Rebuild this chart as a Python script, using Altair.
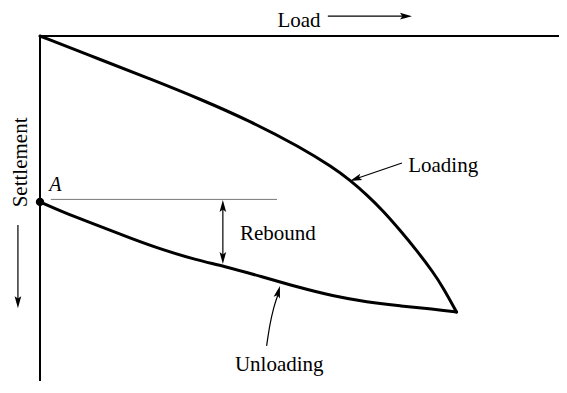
import altair as alt
import pandas as pd

# ---- chart values (relative load / settlement units; tip of the loop = 100, 100) ----
loading_load = [0, 14.4, 26.4, 38.4, 50.4, 62.4, 70.3, 74.4, 78.5, 82.4, 86.4, 90.5, 94.4, 96.8, 100]
loading_settle = [0, 8.5, 15.5, 22.8, 30.8, 40.2, 47.6, 52.2, 57.6, 63.4, 70.3, 77.8, 85.6, 91.2, 100]

unloading_load = [0, 5.5, 13.7, 21.6, 29.5, 37.7, 43.9, 53.5, 61.7, 70.3, 78.5, 86.4, 94.4, 100]
unloading_settle = [60.1, 63.8, 68.5, 73.2, 77.5, 81.2, 83.3, 87.3, 90.9, 94.2, 96.4, 97.8, 98.9, 100]

point_a_load = [0]
point_a_settle = [60.1]
rebound_level = 59.2

label_texts = ["Load", "Loading", "Rebound", "Unloading"]

W, H = 519, 345
XMAX = 124.6
YMAX = 125.0

xs = alt.Scale(domain=[0, XMAX], nice=False, zero=False)
ys = alt.Scale(domain=[0, YMAX], nice=False, zero=False, reverse=True)


def X(f="x"):
    return alt.X(f"{f}:Q", scale=xs, axis=None)


def Y(f="y"):
    return alt.Y(f"{f}:Q", scale=ys, axis=None)


FONT = "Liberation Serif"
ARROW = "M0,0L0.55,2L0,1.6L-0.55,2Z"

# axes (drawn as rules)
axes_df = pd.DataFrame({"x": [0, 0], "x2": [0, 140], "y": [0, 0], "y2": [140, 0]})
axes = alt.Chart(axes_df).mark_rule(color="black", strokeWidth=2).encode(
    x=X(), x2="x2:Q", y=Y(), y2="y2:Q"
)

loading_df = pd.DataFrame({"x": loading_load, "y": loading_settle, "o": range(len(loading_load))})
unloading_df = pd.DataFrame({"x": unloading_load, "y": unloading_settle, "o": range(len(unloading_load))})

loading = alt.Chart(loading_df).mark_line(
    color="black", strokeWidth=3, interpolate="basis", strokeCap="round"
).encode(x=X(), y=Y(), order="o:Q")
unloading = alt.Chart(unloading_df).mark_line(
    color="black", strokeWidth=3, interpolate="basis", strokeCap="round"
).encode(x=X(), y=Y(), order="o:Q")

# rebound reference line
reb_df = pd.DataFrame({"x": [2.6], "x2": [56.9], "y": [rebound_level]})
reb_line = alt.Chart(reb_df).mark_rule(color="#777777", strokeWidth=1).encode(
    x=X(), x2="x2:Q", y=Y()
)

# point A
pa_df = pd.DataFrame({"x": point_a_load, "y": point_a_settle})
pa = alt.Chart(pa_df).mark_point(filled=True, color="black", size=70, opacity=1, shape="circle").encode(
    x=X(), y=Y()
)

# straight arrow shafts
shaft_df = pd.DataFrame({
    "x": [69.1, -5.3, 43.9, 86.9],
    "x2": [88.0, -5.3, 43.9, 75.5],
    "y": [-7.2, 68.5, 62.0, 46.0],
    "y2": [-7.2, 96.0, 80.0, 51.9],
})
shafts = alt.Chart(shaft_df).mark_rule(color="black", strokeWidth=1.2).encode(
    x=X(), x2="x2:Q", y=Y(), y2="y2:Q"
)

# curved shaft to the unloading branch
ucurve_df = pd.DataFrame({"x": [54.4, 55.2, 56.1, 57.3], "y": [112.3, 104.7, 98.6, 93.0], "o": [0, 1, 2, 3]})
ucurve = alt.Chart(ucurve_df).mark_line(color="black", strokeWidth=1.2, interpolate="monotone").encode(
    x=X(), y=Y(), order="o:Q"
)

# arrow heads
heads_df = pd.DataFrame({
    "x": [89.3, -5.3, 43.9, 43.9, 74.4, 57.6],
    "y": [-7.2, 98.6, 59.4, 82.6, 52.5, 90.6],
    "ang": [90, 180, 0, 180, 250.9, 15.3],
})
heads = alt.Chart(heads_df).mark_point(
    shape=ARROW, filled=True, color="black", size=144, opacity=1, strokeWidth=0
).encode(x=X(), y=Y(), angle=alt.Angle("ang:Q", scale=None))

# labels
lab_df = pd.DataFrame({
    "text": label_texts,
    "x": [57.0, 88.4, 48.0, 46.8],
    "y": [-3.3, 49.3, 73.9, 121.4],
})
labels = alt.Chart(lab_df).mark_text(
    font=FONT, fontSize=21, align="left", baseline="alphabetic", color="black"
).encode(x=X(), y=Y(), text="text:N")

a_df = pd.DataFrame({"text": ["A"], "x": [2.2], "y": [56.2]})
a_label = alt.Chart(a_df).mark_text(
    font=FONT, fontSize=20, fontStyle="italic", align="left", baseline="alphabetic", color="black"
).encode(x=X(), y=Y(), text="text:N")

s_df = pd.DataFrame({"text": ["Settlement"], "x": [-3.1], "y": [45.8]})
s_label = alt.Chart(s_df).mark_text(
    font=FONT, fontSize=21, angle=270, align="center", baseline="alphabetic", color="black"
).encode(x=X(), y=Y(), text="text:N")

chart = alt.layer(
    axes, reb_line, loading, unloading, shafts, ucurve, heads, pa, labels, a_label, s_label
).properties(
    width=W,
    height=H,
    padding={"left": 32, "top": 28, "right": 0, "bottom": 0},
    autosize=alt.AutoSizeParams(type="none"),
    background="white",
).configure_view(stroke=None)

chart.save("out.html", embed_options={"renderer": "svg", "actions": False})
